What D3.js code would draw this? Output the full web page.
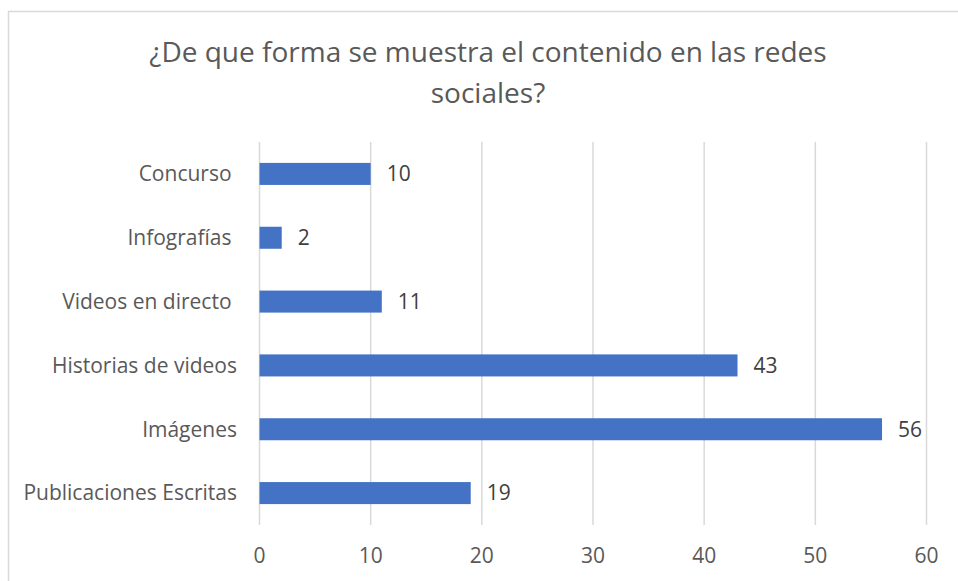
<!DOCTYPE html>
<html lang="es">
<head>
  <meta charset="UTF-8" />
  <title>Contenido en redes sociales</title>
  <script src="https://d3js.org/d3.v7.min.js"></script>
  <style>
    body { margin: 0; background: #fff; }
    svg { display: block; font-family: "Open Sans", sans-serif; }
    text { white-space: pre; }
  </style>
</head>
<body>
<svg id="chart" width="958" height="581"></svg>
<script>
  // some labels carry a trailing space in the source sheet
  const categories = ["Concurso ", "Infografías ", "Videos en directo ", "Historias de videos", "Imágenes", "Publicaciones Escritas"];
  const values = [10, 2, 11, 43, 56, 19];
  const xTicks = [0, 10, 20, 30, 40, 50, 60];
  const titleLines = ["¿De que forma se muestra el contenido en las redes", "sociales?"];

  const svg = d3.select("#chart");
  const plotLeft = 259.5, plotRight = 926.5, plotTop = 142, plotBottom = 525;

  // chart frame
  svg.append("rect")
    .attr("x", 8.5).attr("y", 11.5)
    .attr("width", 980).attr("height", 600)
    .style("fill", "none").style("stroke", "#d9d9d9").style("stroke-width", 1.5);

  const x = d3.scaleLinear().domain([0, 60]).range([plotLeft, plotRight]);
  const y = d3.scaleBand().domain(categories).range([plotTop, plotBottom]).paddingInner(0.655).paddingOuter(0.3275);

  svg.append("g")
    .selectAll("line")
    .data(xTicks)
    .enter().append("line")
    .attr("x1", d => x(d)).attr("x2", d => x(d))
    .attr("y1", plotTop).attr("y2", plotBottom)
    .style("stroke", "#d9d9d9").style("stroke-width", 1.5);

  svg.append("g")
    .selectAll("text")
    .data(xTicks)
    .enter().append("text")
    .attr("x", d => x(d)).attr("y", 563)
    .attr("text-anchor", "middle")
    .style("font-size", "21px").style("fill", "#595959")
    .text(d => d);

  svg.append("g")
    .selectAll("rect")
    .data(values)
    .enter().append("rect")
    .attr("x", x(0))
    .attr("y", (d, i) => y(categories[i]))
    .attr("width", d => x(d) - x(0))
    .attr("height", y.bandwidth())
    .style("fill", "#4472c4");

  svg.append("g")
    .selectAll("text")
    .data(values)
    .enter().append("text")
    .attr("x", d => x(d) + 16)
    .attr("y", (d, i) => y(categories[i]) + y.bandwidth() / 2)
    .attr("dy", "0.35em")
    .style("font-size", "21px").style("fill", "#404040")
    .text(d => d);

  svg.append("g")
    .selectAll("text")
    .data(categories)
    .enter().append("text")
    .attr("x", 237)
    .attr("y", d => y(d) + y.bandwidth() / 2)
    .attr("dy", "0.35em")
    .attr("text-anchor", "end")
    .style("font-size", "21px").style("fill", "#595959")
    .text(d => d);

  svg.append("g")
    .selectAll("text")
    .data(titleLines)
    .enter().append("text")
    .attr("x", 488)
    .attr("y", (d, i) => 62 + i * 41)
    .attr("text-anchor", "middle")
    .style("font-size", "28px").style("fill", "#595959")
    .text(d => d);
</script>
</body>
</html>
